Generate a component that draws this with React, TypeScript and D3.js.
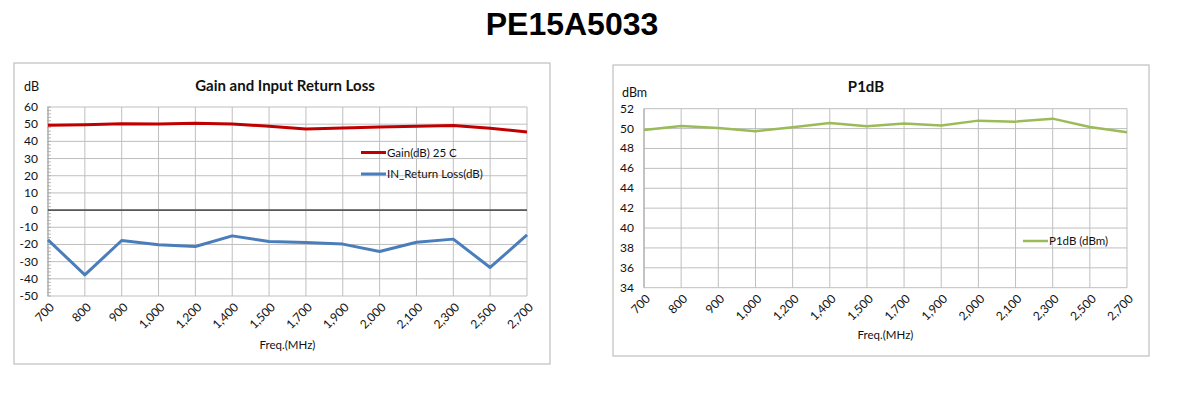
import React from "react";
import * as d3 from "d3";

const freqs = ["700", "800", "900", "1,000", "1,200", "1,400", "1,500", "1,700", "1,900", "2,000", "2,100", "2,300", "2,500", "2,700"];
const gain = [49.4, 49.7, 50.3, 50.1, 50.6, 50.1, 48.8, 47.2, 47.8, 48.4, 48.8, 49.2, 47.6, 45.5];
const returnLoss = [-17.3, -37.7, -17.7, -20.2, -21.2, -15.0, -18.3, -18.9, -19.8, -24.1, -18.7, -16.9, -33.4, -14.4];
const p1db = [49.86, 50.26, 50.06, 49.73, 50.13, 50.56, 50.23, 50.5, 50.3, 50.8, 50.7, 51.0, 50.16, 49.63];
const gainTicks = [60, 50, 40, 30, 20, 10, 0, -10, -20, -30, -40, -50];
const p1dbTicks = [52, 50, 48, 46, 44, 42, 40, 38, 36, 34];

const FONT = "Lato, 'Open Sans', sans-serif";

type Series = { name: string; values: number[]; color: string; width: number };

type ChartProps = {
  box: [number, number, number, number];
  plot: [number, number, number, number];
  title: string;
  titlePos: [number, number];
  unit: string;
  unitPos: [number, number];
  ticks: number[];
  series: Series[];
  legendPos: [number, number];
  xLabelY: number;
  zeroLine?: boolean;
  minorTicks?: boolean;
};

const Chart = (p: ChartProps) => {
  const [l, t, r, b] = p.plot;
  const x = d3.scalePoint<string>().domain(freqs).range([l, r]).padding(0);
  const y = d3.scaleLinear().domain(d3.extent(p.ticks) as [number, number]).range([b, t]);
  const line = d3.line<number>().x((_, i) => x(freqs[i]) as number).y(d => y(d));
  const [lo, hi] = d3.extent(p.ticks) as [number, number];
  const step = Math.abs(p.ticks[0] - p.ticks[1]);
  const minor = p.minorTicks ? d3.range(lo, hi + 0.001, step / 5) : [];

  return (
    <g fontFamily={FONT}>
      <rect x={p.box[0]} y={p.box[1]} width={p.box[2] - p.box[0]} height={p.box[3] - p.box[1]} fill="#fff" stroke="#BFBFBF" strokeWidth={1.2} />
      <text x={p.titlePos[0]} y={p.titlePos[1]} textAnchor="middle" fontSize={15} fontWeight="bold" fill="#111">{p.title}</text>
      <text x={p.unitPos[0]} y={p.unitPos[1]} fontSize={12.5} fill="#111">{p.unit}</text>
      {p.ticks.map(v => (
        <line key={"h" + v} x1={l} x2={r} y1={y(v)} y2={y(v)} stroke="#BFBFBF" strokeWidth={1} />
      ))}
      {freqs.map(f => (
        <line key={"v" + f} x1={x(f)} x2={x(f)} y1={t} y2={b} stroke="#BFBFBF" strokeWidth={1} />
      ))}
      <line x1={l} x2={l} y1={t} y2={b} stroke="#A6A6A6" strokeWidth={1} />
      {minor.map(v => (
        <line key={"m" + v} x1={l - 1} x2={l + 3} y1={y(v)} y2={y(v)} stroke="#A6A6A6" strokeWidth={0.8} />
      ))}
      {p.zeroLine && <line x1={l} x2={r} y1={y(0)} y2={y(0)} stroke="#595959" strokeWidth={1.6} />}
      {p.ticks.map(v => (
        <text key={"t" + v} x={l - 10} y={y(v) + 4} textAnchor="end" fontSize={12} fill="#111">{v}</text>
      ))}
      {freqs.map(f => (
        <text key={"x" + f} transform={`translate(${(x(f) as number) + 4},${b + 9}) rotate(-45)`} textAnchor="end" dy="0.35em" fontSize={12} fill="#111">{f}</text>
      ))}
      <text x={(l + r) / 2} y={p.xLabelY} textAnchor="middle" fontSize={11.5} fill="#111">Freq.(MHz)</text>
      {p.series.map(s => (
        <path key={s.name} d={line(s.values) as string} fill="none" stroke={s.color} strokeWidth={s.width} strokeLinejoin="round" />
      ))}
      {p.series.map((s, i) => (
        <g key={"lg" + s.name} transform={`translate(${p.legendPos[0]},${p.legendPos[1] + i * 21.5})`}>
          <line x1={0} x2={25} y1={0} y2={0} stroke={s.color} strokeWidth={s.width} />
          <text x={26} y={4} fontSize={11.5} fill="#111">{s.name}</text>
        </g>
      ))}
    </g>
  );
};

export default function App() {
  return (
    <svg width={1189} height={398} style={{ position: "absolute", left: 0, top: 0, background: "#fff" }}>
      <text x={572} y={35} textAnchor="middle" fontFamily="Arial, 'Liberation Sans', sans-serif" fontWeight="bold" fontSize={32} fill="#000">PE15A5033</text>
      <Chart
        box={[14, 63, 550, 364]}
        plot={[48, 107, 527, 296]}
        title="Gain and Input Return Loss"
        titlePos={[285, 91]}
        unit="dB"
        unitPos={[24, 91]}
        ticks={gainTicks}
        series={[
          { name: "Gain(dB) 25 C", values: gain, color: "#C00000", width: 3 },
          { name: "IN_Return Loss(dB)", values: returnLoss, color: "#4A7EBB", width: 3 },
        ]}
        legendPos={[361, 152.5]}
        xLabelY={349}
        zeroLine
        minorTicks
      />
      <Chart
        box={[613, 65, 1149, 356]}
        plot={[644, 108.7, 1127, 287.7]}
        title="P1dB"
        titlePos={[866, 92]}
        unit="dBm"
        unitPos={[622, 97]}
        ticks={p1dbTicks}
        series={[{ name: "P1dB (dBm)", values: p1db, color: "#9BBB59", width: 2.5 }]}
        legendPos={[1023, 241]}
        xLabelY={339}
      />
    </svg>
  );
}
